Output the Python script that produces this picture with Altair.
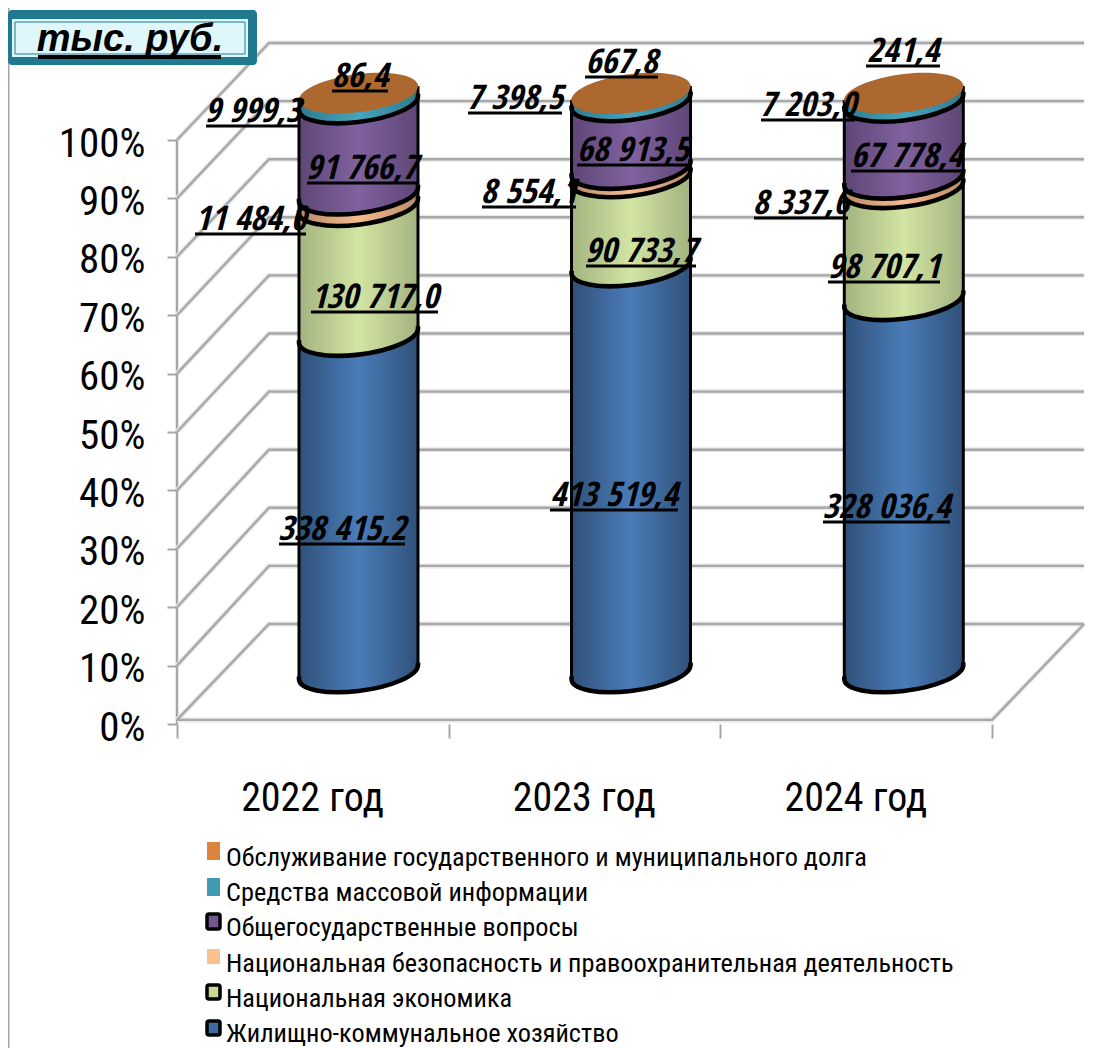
import altair as alt
import pandas as pd

# ---- chart values ----
YEARS = ["2022 год", "2023 год", "2024 год"]
SERIES = ["Жилищно-коммунальное хозяйство", "Национальная  экономика",
          "Национальная  безопасность и правоохранительная деятельность",
          "Общегосударственные вопросы", "Средства массовой информации",
          "Обслуживание государственного и муниципального  долга"]
HOUSING = [338415.2, 413519.4, 328036.4]
ECONOMY = [130717.0, 90733.7, 98707.1]
SECURITY = [11484.0, 8554.1, 8337.6]
GENERAL = [91766.7, 68913.5, 67778.4]
MEDIA = [9999.3, 7398.5, 7203.0]
DEBT = [86.4, 667.8, 241.4]
VALUES = [HOUSING, ECONOMY, SECURITY, GENERAL, MEDIA, DEBT]
PERCENT_TICKS = [0, 10, 20, 30, 40, 50, 60, 70, 80, 90, 100]

# ---- styling ----
CENTER = ["#4a7cb8", "#d3e5a3", "#f7bb8e", "#80629e", "#46a5bd", "#ad682f"]
EDGE = ["#2f5179", "#a3b380", "#b98a66", "#5e4677", "#2f7a8c", "#a5622b"]
SWATCH = ["#3f6ba3", "#c9d994", "#fac090", "#73558f", "#3f9bb3", "#dc843c"]
SWATCH_OUTLINE = [True, True, False, True, False, False]
SWATCH_TOP = [1021, 985, 949, 914, 878, 842]
SWATCH_BOTTOM = [1035, 999, 964, 929, 896, 860]
LEGEND_TEXT_Y = [1034, 999, 964, 928, 893, 858]

# label layout, page pixels: left end, right end, underline height (one row per series, year order)
LABEL_LEFT = [[279, 550, 823], [311, 586, 828], [195, 482, 754], [307, 577, 851], [206, 468, 761], [332, 585, 866]]
LABEL_RIGHT = [[405, 678, 950], [438, 696, 940], [306, 576, 848], [417, 689, 963], [300, 562, 855], [388, 658, 940]]
LABEL_LINE = [[544, 510, 522], [312, 266, 282], [234, 207, 218], [183, 165, 171], [126, 113, 120], [91, 77, 66]]

FONT = "Roboto Condensed, Liberation Sans"
LABEL_FONT = "Open Sans Condensed, Liberation Sans"
PX_X, PX_Y = 271.7, 5.84
LEFT, BASE, RIGHT = 177, 724, 1099
ux = lambda p: (p - LEFT) / PX_X
uy = lambda p: (BASE - p) / PX_Y

xs = alt.Scale(domain=[0, (RIGHT - LEFT) / PX_X], nice=False, zero=False)
ys = alt.Scale(domain=[0, (BASE - 8) / PX_Y], nice=False, zero=False)
X_AXIS = alt.Axis(
    values=[0, 1, 2, 3], domain=False, grid=False, tickColor="#a6a6a6", tickWidth=2, tickSize=14,
    labelExpr="datum.value < 3 ? (2022 + datum.value) + ' год' : ''", labelOffset=135, labelPadding=40,
    labelFont=FONT, labelFontSize=40, labelColor="black", labelOverlap=False, labelFlush=False,
    labelBound=False, title=None)
Y_AXIS = alt.Axis(
    values=PERCENT_TICKS, domain=False, grid=False, tickColor="#a6a6a6", tickWidth=2, tickSize=10,
    labelExpr="datum.value + '%'", labelOffset=4, labelPadding=22,
    labelFont=FONT, labelFontSize=41, labelColor="black", labelOverlap=False, labelFlush=False,
    labelBound=False, title=None)
X = lambda f="x": alt.X(f"{f}:Q", scale=xs, axis=X_AXIS)
Y = lambda f="y": alt.Y(f"{f}:Q", scale=ys, axis=Y_AXIS)

layers = []

# ---- axes line ----
layers.append(alt.Chart(pd.DataFrame({"x": [0, 0], "y": [0, 100]})).mark_line(
    color="#a6a6a6", strokeWidth=2.5).encode(x=X(), y=Y()))

# ---- 3D walls ----
DEPTH_X, DEPTH_Y = 92 / PX_X, 97 / PX_Y
FRONT = 0.7
rows = []
for i, t in enumerate(PERCENT_TICKS):
    f = max(t, FRONT)
    back = (BASE - 624) / PX_Y + t * (624 - 43) / (100 * PX_Y)
    rows += [{"id": f"d{i}", "x": 0, "y": f}, {"id": f"d{i}", "x": DEPTH_X, "y": back},
             {"id": f"d{i}", "x": 3 + DEPTH_X, "y": back}]
rows += [{"id": "floor", "x": 0, "y": FRONT}, {"id": "floor", "x": 3, "y": FRONT},
         {"id": "floor", "x": 3 + DEPTH_X, "y": (BASE - 624) / PX_Y}]
grid = pd.DataFrame(rows)
for w, c in [(5, "#e8e8e8"), (2.4, "#a8a8a8")]:
    layers.append(alt.Chart(grid).mark_line(color=c, strokeWidth=w).encode(
        x=X(), y=Y(), detail="id:N"))

# ---- cylinders ----
CYL_X = [0.668, 1.671, 2.675]
HALF_W = 59.5 / PX_X
TILT = 7 / PX_Y
BOTTOM = (BASE - 672) / PX_Y
SPAN = (672 - 93) / PX_Y
totals = [sum(v[i] for v in VALUES) for i in range(3)]


def shear_path(closed):
    s, b, k = 7 / 59.5, 19 / 59.5, 0.5523
    p = lambda x, y: f"{x:.4f},{y - s * x:.4f}"
    d = (f"M{p(-1, -0.04)}L{p(-1, 0)}C{p(-1, k * b)} {p(-k, b)} {p(0, b)}"
         f"C{p(k, b)} {p(1, k * b)} {p(1, 0)}")
    if closed:
        d += f"C{p(1, -k * b)} {p(k, -b)} {p(0, -b)}C{p(-k, -b)} {p(-1, -k * b)} {p(-1, 0)}Z"
    else:
        d += f"L{p(1, -0.04)}"
    return d


SIZE = 119.0 ** 2
label_rows = []
for si, vals in enumerate(VALUES):
    cum = [sum(v[i] for v in VALUES[:si]) for i in range(3)]
    areas, lows = [], []
    for i in range(3):
        y0 = BOTTOM + SPAN * cum[i] / totals[i]
        y1 = BOTTOM + SPAN * (cum[i] + vals[i]) / totals[i]
        areas += [{"yr": i, "x": CYL_X[i] - HALF_W, "y": y0 - TILT, "y2": y1 - TILT},
                  {"yr": i, "x": CYL_X[i] + HALF_W, "y": y0 + TILT, "y2": y1 + TILT}]
        lows.append({"x": CYL_X[i], "y": y0})
    grad = alt.Gradient(gradient="linear", x1=0, x2=1, y1=0, y2=0, stops=[
        alt.GradientStop(color=EDGE[si], offset=0), alt.GradientStop(color=CENTER[si], offset=0.5),
        alt.GradientStop(color=EDGE[si], offset=1)])
    layers.append(alt.Chart(pd.DataFrame(areas)).mark_area(fill=grad, opacity=1, line=False).encode(
        x=X(), y=Y(), y2="y2:Q", detail="yr:N"))
    pt = dict(shape=shear_path(False), size=SIZE, filled=True, fill=grad, opacity=1)
    if si < 5:
        pt.update(stroke="black", strokeWidth=4.6)
    layers.append(alt.Chart(pd.DataFrame(lows)).mark_point(**pt).encode(x=X(), y=Y()))

sides = []
for i in range(3):
    for sgn in (-1, 1):
        sides.append({"x": CYL_X[i] + sgn * HALF_W, "y": BOTTOM + sgn * TILT, "y2": BOTTOM + SPAN + sgn * TILT})
layers.append(alt.Chart(pd.DataFrame(sides)).mark_rule(color="black", strokeWidth=3).encode(
    x=X(), y=Y(), y2="y2:Q"))
layers.append(alt.Chart(pd.DataFrame({"x": CYL_X, "y": [BOTTOM + SPAN] * 3})).mark_point(
    shape=shear_path(True), size=SIZE, filled=True, fill=CENTER[5], opacity=1, strokeWidth=0).encode(x=X(), y=Y()))

# ---- value labels with underlines ----
fmt = lambda v: f"{v:,.1f}".replace(",", " ").replace(".", ",")
for si, vals in enumerate(VALUES):
    for i in range(3):
        l, r, u = LABEL_LEFT[si][i], LABEL_RIGHT[si][i], LABEL_LINE[si][i]
        label_rows.append({"x": ux((l + r) / 2), "y": uy(u - 4), "x0": ux(l), "x1": ux(r), "u": uy(u), "t": fmt(vals[i])})
ldf = pd.DataFrame(label_rows)
layers.append(alt.Chart(ldf).mark_text(font=LABEL_FONT, fontSize=34, fontWeight="bold", fontStyle="italic",
                                       color="black", baseline="alphabetic", align="center").encode(
    x=X(), y=Y(), text="t:N"))
layers.append(alt.Chart(ldf).mark_rule(color="black", strokeWidth=3).encode(x=X("x0"), x2="x1:Q", y=Y("u")))

# ---- legend ----
for outlined in (False, True):
    sub = [{"x": ux(207), "x2": ux(220), "y": uy(SWATCH_BOTTOM[k]), "y2": uy(SWATCH_TOP[k]), "c": SWATCH[k]}
           for k in range(6) if SWATCH_OUTLINE[k] == outlined]
    kw = dict(stroke="black", strokeWidth=3.5, cornerRadius=2) if outlined else {}
    layers.append(alt.Chart(pd.DataFrame(sub)).mark_rect(**kw).encode(
        x=X(), x2="x2:Q", y=Y(), y2="y2:Q", fill=alt.Fill("c:N", scale=None)))
leg = pd.DataFrame({"x": [ux(226)] * 6, "y": [uy(v) for v in LEGEND_TEXT_Y], "t": SERIES})
layers.append(alt.Chart(leg).mark_text(font=FONT, fontSize=26.3, color="black", align="left", baseline="middle").encode(
    x=X(), y=Y(), text="t:N"))

# ---- outer frame line ----
layers.append(alt.Chart(pd.DataFrame({"x": [ux(8.5), ux(8.5)], "y": [uy(8), uy(1048)]})).mark_line(
    color="#a6a6a6", strokeWidth=2, clip=False).encode(x=X(), y=Y()))

# ---- unit box ----
box_rows = [("#1f7a90", 8, 257, 10, 65, 4), ("#dff6fb", 12, 248, 19, 57, 0)]
for col, a, b, c, d, rad in box_rows:
    layers.append(alt.Chart(pd.DataFrame([{"x": ux(a), "x2": ux(b), "y": uy(d), "y2": uy(c)}])).mark_rect(
        color=col, cornerRadius=rad, opacity=1).encode(x=X(), x2="x2:Q", y=Y(), y2="y2:Q"))
layers.append(alt.Chart(pd.DataFrame([{"x": ux(15), "x2": ux(245), "y": uy(54), "y2": uy(22)}])).mark_rect(
    fill="#dff6fb", stroke="#1f7a90", strokeWidth=1, opacity=1).encode(x=X(), x2="x2:Q", y=Y(), y2="y2:Q"))
layers.append(alt.Chart(pd.DataFrame([{"x": ux(130), "y": uy(51), "t": "тыс. руб."}])).mark_text(
    font="Liberation Sans", fontSize=38, fontWeight="bold", fontStyle="italic", color="black",
    align="center", baseline="alphabetic").encode(x=X(), y=Y(), text="t:N"))
layers.append(alt.Chart(pd.DataFrame([{"x": ux(38), "x2": ux(221), "y": uy(57)}])).mark_rule(
    color="black", strokeWidth=4).encode(x=X(), x2="x2:Q", y=Y()))

chart = alt.layer(*layers).properties(
    width=RIGHT - LEFT, height=BASE - 8,
    padding={"left": LEFT - 8, "top": 0, "right": 0, "bottom": 1048 - BASE},
    autosize=alt.AutoSizeParams(type="none"),
    background="white",
).configure_view(stroke=None)

chart.save("out.html", embed_options={"renderer": "svg", "actions": False})
